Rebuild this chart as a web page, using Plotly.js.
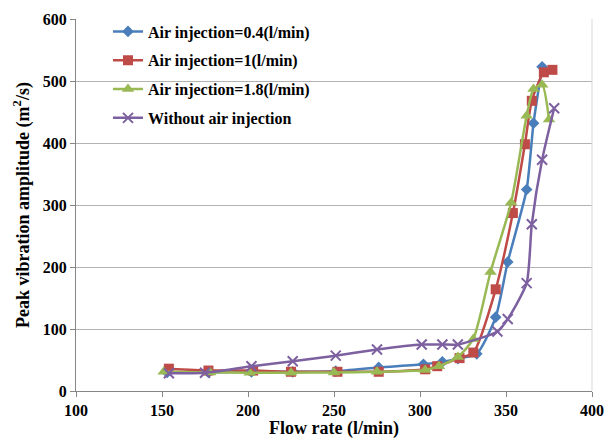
<!DOCTYPE html>
<html>
<head>
<meta charset="utf-8">
<script src="https://cdn.plot.ly/plotly-3.0.1.min.js"></script>
<style>html,body{margin:0;padding:0;background:#fff;}#chart{width:607px;height:439px;}</style>
</head>
<body>
<div id="chart"></div>
<script>
const seriesNames = ["Air injection=0.4(l/min)", "Air injection=1(l/min)", "Air injection=1.8(l/min)", "Without air injection"];

const flow04 = [153, 177, 202, 226, 251, 276, 302, 313, 322, 333, 344, 351, 362, 366, 371];
const amp04  = [30, 30, 31, 31, 32, 38, 43, 47, 52, 60, 119, 208, 325, 432, 523];

const flow1 = [154, 177, 203, 225, 252, 276, 303, 310, 323, 331, 344, 354, 361, 365, 372, 377];
const amp1  = [36, 33, 33, 31, 31, 31, 35, 40, 53, 62, 164, 287, 398, 468, 514, 518];

const flow18 = [151, 178, 201, 225, 250, 275, 303, 311, 322, 331, 341, 353, 362, 366, 371, 375];
const amp18  = [31, 30, 29.5, 29.5, 30, 31, 34, 40, 55, 84, 192, 304, 444, 487, 494, 438];

const flow0 = [154, 175, 202, 226, 251, 275, 301, 313, 322, 345, 351, 362, 365, 371, 378];
const amp0  = [28.5, 29.5, 40, 48, 57, 67, 75, 75, 75, 96, 116, 174, 269, 373, 456];

const xTicks = [100, 150, 200, 250, 300, 350, 400];
const yTicks = [0, 100, 200, 300, 400, 500, 600];

const font = "'Liberation Serif', 'Times New Roman', serif";

function tr(x, y, name, color, sym, size, grp, extra) {
  const m = {symbol: sym, size: size, color: color};
  if (extra) Object.assign(m, extra);
  return {
    x: x, y: y, name: name, type: 'scatter', mode: 'lines+markers',
    legendgroup: grp,
    line: {color: color, width: 2.5, shape: 'spline', smoothing: 0.6},
    marker: m
  };
}

const data = [
  tr(flow04, amp04, seriesNames[0], '#4A7EBB', 'diamond', 9, 'a'),
  tr(flow1, amp1, seriesNames[1], '#BE4B48', 'square', 10, 'b'),
  tr(flow18, amp18, seriesNames[2], '#98B954', 'triangle-up', 11, 'c'),
  tr(flow0, amp0, seriesNames[3], '#7D60A0', 'x-thin', 10, 'd', {line: {color: '#7D60A0', width: 2}})
];

const layout = {
  width: 607, height: 439,
  margin: {l: 76, r: 15, t: 19, b: 48},
  paper_bgcolor: '#ffffff', plot_bgcolor: '#ffffff',
  showlegend: true,
  legend: {
    x: 0.062, y: 1.012, xanchor: 'left', yanchor: 'top',
    bgcolor: 'rgba(255,255,255,0)',
    font: {family: font, size: 16, color: '#000', weight: 'bold'},
    tracegroupgap: 5, traceorder: 'grouped'
  },
  xaxis: {
    range: [100, 400], tickvals: xTicks, ticktext: xTicks.map(String),
    showgrid: false, zeroline: false,
    showline: true, linecolor: '#868686', linewidth: 1,
    ticks: 'outside', ticklen: 5, tickcolor: '#868686',
    tickfont: {family: font, size: 16, color: '#000', weight: 'bold'},
    title: {text: 'Flow rate (l/min)', font: {family: font, size: 18, color: '#000', weight: 'bold'}, standoff: 2}
  },
  yaxis: {
    range: [0, 600], tickvals: yTicks, ticktext: yTicks.map(String),
    showgrid: true, gridcolor: '#b3b3b3', gridwidth: 1, zeroline: false,
    showline: true, linecolor: '#868686', linewidth: 1,
    ticks: 'outside', ticklen: 5, tickcolor: '#868686',
    tickfont: {family: font, size: 16, color: '#000', weight: 'bold'},
    title: {text: 'Peak vibration amplitude (m<sup>2</sup>/s)', font: {family: font, size: 18, color: '#000', weight: 'bold'}, standoff: 8}
  },
  shapes: [
    {type: 'line', xref: 'paper', yref: 'paper', x0: 1, x1: 1, y0: 0, y1: 1, line: {color: '#d9d9d9', width: 1}}
  ]
};

Plotly.newPlot('chart', data, layout, {displayModeBar: false, staticPlot: true});
</script>
</body>
</html>
